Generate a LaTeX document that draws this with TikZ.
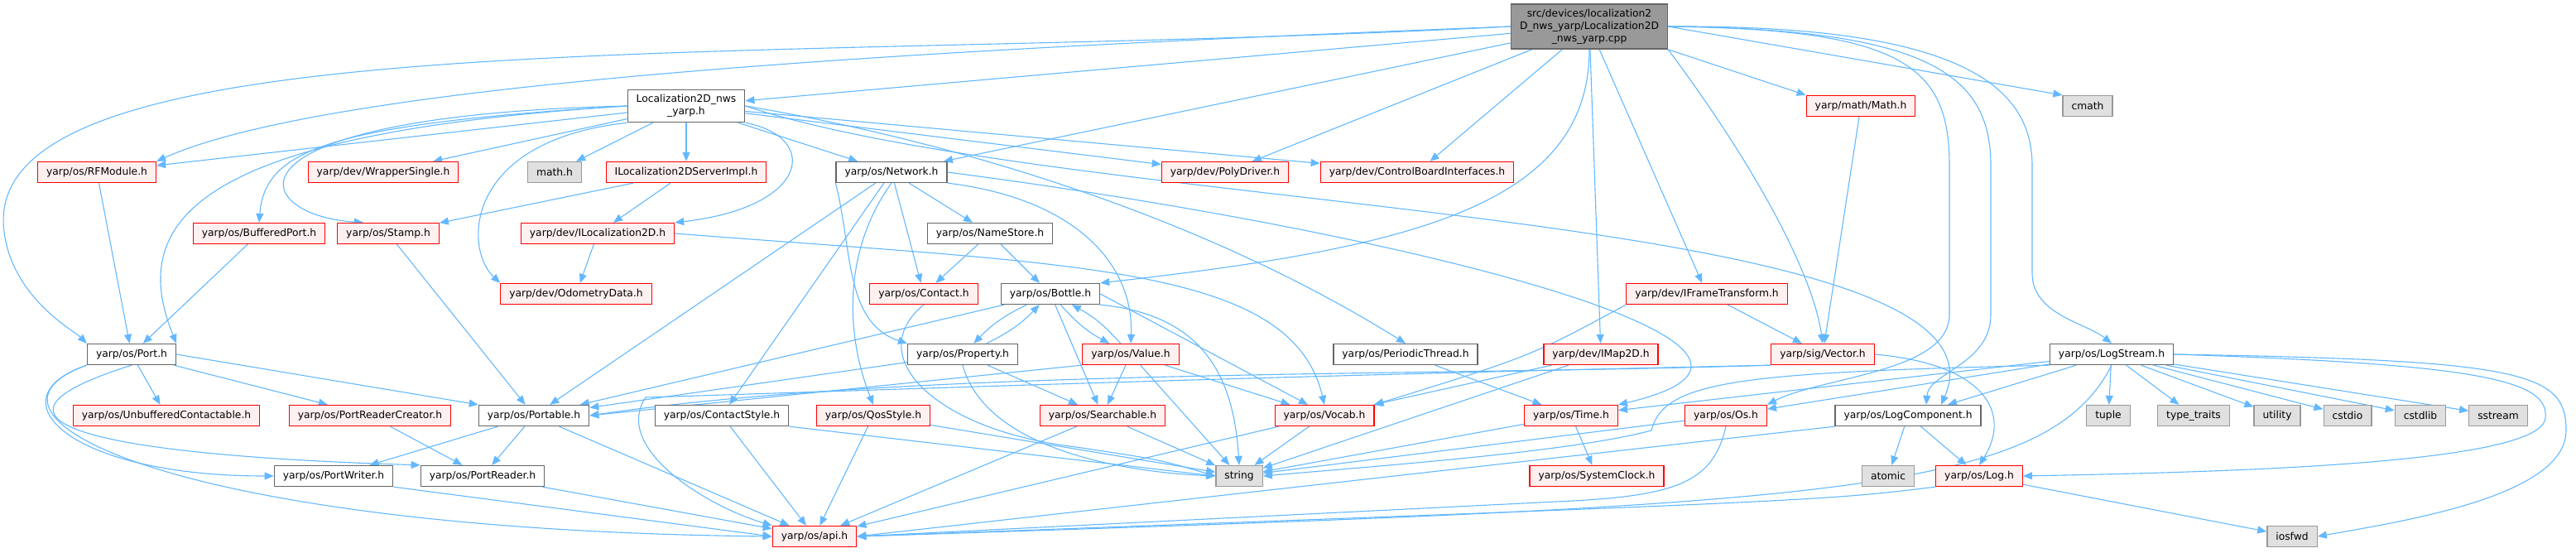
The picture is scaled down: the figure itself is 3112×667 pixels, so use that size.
\documentclass[tikz,border=0pt]{standalone}
\usepackage{fontspec}
\setmainfont{DejaVu Sans}
\usetikzlibrary{arrows.meta,backgrounds}
\definecolor{edgeblue}{HTML}{63B8FF}
\definecolor{hdrgrey}{HTML}{666666}
\definecolor{rootfill}{HTML}{999999}
\definecolor{truncfill}{HTML}{FFF0F0}
\definecolor{truncred}{HTML}{FF0000}
\definecolor{sysfill}{HTML}{E0E0E0}
\definecolor{sysgrey}{HTML}{999999}

\begin{document}
\begin{tikzpicture}[x=1pt,y=-1pt,
 node/.style={rectangle,align=center,line width=1.3pt,minimum height=25pt,inner xsep=10.5pt,inner ysep=6pt,font=\fontsize{12.3pt}{15pt}\selectfont},
 hdr/.style={node,draw=hdrgrey,fill=white},
 rootbox/.style={node,draw=hdrgrey,fill=rootfill},
 trunc/.style={node,draw=truncred,fill=truncfill},
 sys/.style={node,draw=sysgrey,fill=sysfill},
 dep/.style={-{Triangle[length=11pt,width=9pt]},line width=1.1pt,draw=edgeblue}]
\useasboundingbox (0,0) rectangle (3112,667);
\node[rootbox] (root) at (1920,32) {src/devices/localization2\\D\_nws\_yarp/Localization2D\\\_nws\_yarp.cpp};
\node[hdr] (loch) at (829,128) {Localization2D\_nws\\\_yarp.h};
\node[trunc] (ymath) at (2248,128) {yarp/math/Math.h};
\node[sys] (cmath) at (2522,128) {cmath};
\node[trunc] (rfmod) at (117,208) {yarp/os/RFModule.h};
\node[trunc] (wrap) at (463,208) {yarp/dev/WrapperSingle.h};
\node[sys] (mathh) at (670,208) {math.h};
\node[trunc] (iserv) at (829,208) {ILocalization2DServerImpl.h};
\node[hdr] (network) at (1077,208) {yarp/os/Network.h};
\node[trunc] (poly) at (1480,208) {yarp/dev/PolyDriver.h};
\node[trunc] (cbi) at (1712,208) {yarp/dev/ControlBoardInterfaces.h};
\node[trunc] (bport) at (313,282) {yarp/os/BufferedPort.h};
\node[trunc] (stamp) at (469,282) {yarp/os/Stamp.h};
\node[trunc] (iloc) at (722,282) {yarp/dev/ILocalization2D.h};
\node[hdr] (namestore) at (1196,282) {yarp/os/NameStore.h};
\node[trunc] (odom) at (696,355) {yarp/dev/OdometryData.h};
\node[trunc] (contact) at (1116,355) {yarp/os/Contact.h};
\node[hdr] (bottle) at (1269,355) {yarp/os/Bottle.h};
\node[trunc] (iframe) at (2062,355) {yarp/dev/IFrameTransform.h};
\node[hdr] (port) at (159,428) {yarp/os/Port.h};
\node[hdr] (property) at (1163,428) {yarp/os/Property.h};
\node[trunc] (value) at (1366,428) {yarp/os/Value.h};
\node[hdr] (pthread) at (1698,428) {yarp/os/PeriodicThread.h};
\node[trunc] (imap) at (1934,428) {yarp/dev/IMap2D.h};
\node[trunc] (vector) at (2202,428) {yarp/sig/Vector.h};
\node[hdr] (logstream) at (2551,428) {yarp/os/LogStream.h};
\node[trunc] (unbuf) at (201,502) {yarp/os/UnbufferedContactable.h};
\node[trunc] (prcreator) at (447,502) {yarp/os/PortReaderCreator.h};
\node[hdr] (portable) at (645,502) {yarp/os/Portable.h};
\node[hdr] (cstyle) at (872,502) {yarp/os/ContactStyle.h};
\node[trunc] (qos) at (1055,502) {yarp/os/QosStyle.h};
\node[trunc] (search) at (1332,502) {yarp/os/Searchable.h};
\node[trunc] (vocab) at (1600,502) {yarp/os/Vocab.h};
\node[trunc] (time) at (1898,502) {yarp/os/Time.h};
\node[trunc] (os) at (2085,502) {yarp/os/Os.h};
\node[hdr] (logcomp) at (2305,502) {yarp/os/LogComponent.h};
\node[sys] (tuple) at (2547,502) {tuple};
\node[sys] (ttraits) at (2650,502) {type\_traits};
\node[sys] (utility) at (2751,502) {utility};
\node[sys] (cstdio) at (2836,502) {cstdio};
\node[sys] (cstdlib) at (2924,502) {cstdlib};
\node[sys] (sstream) at (3018,502) {sstream};
\node[hdr] (pwriter) at (403,575) {yarp/os/PortWriter.h};
\node[hdr] (preader) at (583,575) {yarp/os/PortReader.h};
\node[sys] (string) at (1497,575) {string};
\node[trunc] (sysclock) at (1929,575) {yarp/os/SystemClock.h};
\node[sys] (atomic) at (2281,575) {atomic};
\node[trunc] (log) at (2391,575) {yarp/os/Log.h};
\node[trunc] (api) at (984,648) {yarp/os/api.h};
\node[sys] (iosfwd) at (2769,648) {iosfwd};
\begin{scope}[on background layer]
% from the .cpp
\draw[dep] (root) -- (loch); \draw[dep] (root) -- (network);
\draw[dep] (root) -- (poly); \draw[dep] (root) -- (cbi);
\draw[dep] (root) -- (imap); \draw[dep] (root) -- (iframe);
\draw[dep] (root.west) .. controls (1100,60) and (400,100) .. (rfmod.north east);
\draw[dep] (root.west) .. controls (900,80) and (-30,20) .. (5,280) .. controls (15,360) and (90,400) .. (port.north west);
\draw[dep] (root.south) .. controls (1920,250) and (1700,300) .. (bottle.north east);
\draw[dep] (root.south east) .. controls (2120,200) and (2190,330) .. (vector.north);
\draw[dep] (root.south east) -- (ymath.north west); \draw[dep] (root.east) -- (cmath.north west);
\draw[dep] (root.east) .. controls (2300,35) and (2355,80) .. (2355,200) -- (2355,380) .. controls (2355,450) and (2200,455) .. (os.north east);
\draw[dep] (root.east) .. controls (2330,35) and (2405,90) .. (2405,200) -- (2405,380) .. controls (2405,440) and (2330,450) .. ([xshift=22pt]logcomp.north);
\draw[dep] (root.east) .. controls (2360,30) and (2455,100) .. (2455,200) -- (2455,330) .. controls (2455,380) and (2520,390) .. (logstream.north);
% from the header
\draw[dep] (loch) -- (rfmod); \draw[dep] (loch) -- (wrap); \draw[dep] (loch) -- (mathh);
\draw[dep] (loch) -- (iserv); \draw[dep] (loch) -- (network);
\draw[dep] (loch) -- (poly); \draw[dep] (loch) -- (cbi);
\draw[dep] (loch.west) .. controls (400,150) and (320,180) .. (bport.north);
\draw[dep] (loch.west) .. controls (250,140) and (300,260) .. ([xshift=-30pt]stamp.north);
\draw[dep] (loch.west) .. controls (250,160) and (150,260) .. (port.north east);
\draw[dep] (loch.south east) .. controls (990,165) and (980,250) .. (iloc.north east);
\draw[dep] (loch.south west) .. controls (560,170) and (560,300) .. (odom.north west);
\draw[dep] (loch.east) .. controls (1150,170) and (1450,260) .. (pthread.north);
\draw[dep] (loch.east) .. controls (1300,260) and (2450,250) .. ([xshift=40pt]logcomp.north);
\draw[dep] (iserv) -- (stamp); \draw[dep] (iserv) -- (iloc);
\draw[dep] (iloc) -- (odom);
\draw[dep] (iloc.east) .. controls (1300,320) and (1560,320) .. (vocab.north);
\draw[dep] (stamp) -- (portable); \draw[dep] (bport) -- (port); \draw[dep] (rfmod) -- (port);
% network and friends
\draw[dep] (network) -- (namestore); \draw[dep] (network) -- (contact);
\draw[dep] (network) -- (cstyle); \draw[dep] (network) -- (portable);
\draw[dep] (network.south west) .. controls (1030,300) and (1020,390) .. (property.north west);
\draw[dep] (network.south east) .. controls (1300,240) and (1370,320) .. (value.north);
\draw[dep] (network.south) .. controls (1020,300) and (1020,400) .. (qos.north);
\draw[dep] (network.east) .. controls (1700,280) and (2250,420) .. (time.north east);
\draw[dep] (namestore) -- (contact); \draw[dep] (namestore) -- (bottle);
\draw[dep] (contact.south) .. controls (1040,430) and (1130,520) .. (1300,540) .. controls (1400,555) .. (string.west);
\draw[dep] (bottle) to[bend right=10] (property); \draw[dep] (property) to[bend right=10] (bottle);
\draw[dep] (bottle) to[bend right=10] (value); \draw[dep] (value) to[bend right=10] (bottle);
\draw[dep] (bottle) -- (search); \draw[dep] (bottle) -- (portable);
\draw[dep] (bottle.south east) .. controls (1450,380) and (1490,450) .. (string.north);
\draw[dep] (bottle.east) -- ([xshift=-20pt]vocab.north);
\draw[dep] (property) -- (search); \draw[dep] (property) -- (portable);
\draw[dep] (property.south) .. controls (1190,540) and (1350,570) .. (string.west);
\draw[dep] (value) -- (search); \draw[dep] (value) -- (string); \draw[dep] (value) -- (vocab);
\draw[dep] (value.south west) -- (portable.east);
\draw[dep] (pthread) -- (time);
\draw[dep] (imap) -- (vocab); \draw[dep] (imap) -- (string);
\draw[dep] (iframe) -- (vector);
\draw[dep] (iframe.south west) .. controls (1850,430) .. (vocab.north east);
\draw[dep] (ymath) -- (vector);
\draw[dep] (vector.south west) .. controls (1700,455) and (1100,445) .. (portable.east);
\draw[dep] (vector.south west) .. controls (1500,455) and (1100,470) .. (780,480) .. controls (740,540) and (850,610) .. (api.north west);
\draw[dep] (vector.east) .. controls (2400,440) and (2430,500) .. (log.north);
% log stream
\foreach \t in {tuple,ttraits,utility,cstdio,cstdlib,sstream} \draw[dep] (logstream) -- (\t);
\draw[dep] (logstream) -- ([xshift=48pt]logcomp.north);
\draw[dep] (logstream) -- (os); \draw[dep] (logstream) -- (time);
\draw[dep] (logstream.east) .. controls (3000,440) and (3080,460) .. (3075,505) .. controls (3070,560) and (2700,570) .. (log.east);
\draw[dep] (logstream.east) .. controls (3050,435) and (3100,450) .. (3100,520) .. controls (3100,600) and (2900,630) .. (iosfwd.east);
\draw[dep] (logstream.south west) .. controls (2100,450) and (2010,460) .. (1995,520) .. controls (1900,545) and (1700,560) .. (string.east);
\draw[dep] (logstream.south) .. controls (2470,600) and (2200,610) .. (api.east);
% port
\draw[dep] (port) -- (unbuf); \draw[dep] (port) -- (prcreator);
\draw[dep] (port.east) -- (portable.north west);
\draw[dep] (port.south west) .. controls (-10,480) and (80,575) .. (pwriter.west);
\draw[dep] (port.south) .. controls (-60,510) and (120,550) .. (preader.north west);
\draw[dep] (port.south west) .. controls (-60,500) and (200,640) .. (api.west);
\draw[dep] (prcreator) -- (preader);
\draw[dep] (portable) -- (pwriter); \draw[dep] (portable) -- (preader); \draw[dep] (portable) -- (api);
\draw[dep] (pwriter.south east) -- (api.west); \draw[dep] (preader) -- (api);
% leaves
\draw[dep] (cstyle) -- (api); \draw[dep] (cstyle.south east) -- (string.west);
\draw[dep] (qos) -- (api); \draw[dep] (qos) -- (string);
\draw[dep] (search) -- (api); \draw[dep] (search) -- (string);
\draw[dep] (vocab) -- (string); \draw[dep] (vocab) -- (api);
\draw[dep] (time) -- (sysclock); \draw[dep] (time) -- (string);
\draw[dep] (os) -- (string);
\draw[dep] (os.south) .. controls (2070,580) and (2030,598) .. (1900,605) -- (api.east);
\draw[dep] (logcomp) -- (atomic); \draw[dep] (logcomp) -- (log);
\draw[dep] (logcomp.south west) -- (api.east);
\draw[dep] (log.south west) .. controls (2200,605) .. (api.east);
\draw[dep] (log) -- (iosfwd);
\end{scope}
\end{tikzpicture}
\end{document}
